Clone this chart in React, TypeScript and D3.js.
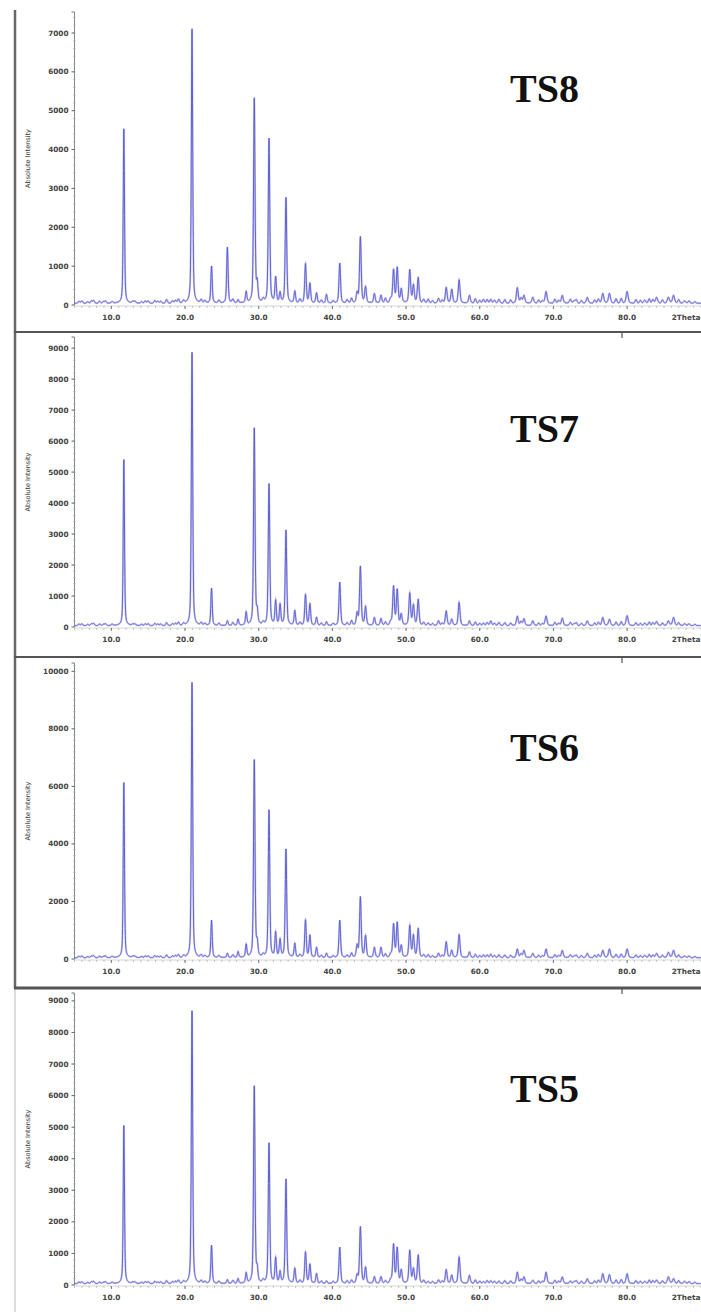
import React, { useMemo } from 'react';
import * as d3 from 'd3';

// ---- data ----
const sampleNames = ['TS8', 'TS7', 'TS6', 'TS5'];

// diffraction peak positions (2θ, degrees), shared by all samples
const peakPos = [11.7, 20.95, 23.6, 25.75, 27.2, 28.3, 29.4, 29.8, 31.4, 32.3, 32.9, 33.7, 34.9, 36.35, 36.95, 37.85, 39.2, 41.0, 42.6, 43.35, 43.8, 44.5, 45.7, 46.6, 47.2, 48.3, 48.8, 49.35, 50.5, 51.0, 51.65, 53.0, 54.4, 55.45, 56.2, 57.2, 58.6, 60.5, 61.5, 62.6, 65.1, 66.0, 67.2, 69.0, 71.2, 72.3, 74.6, 76.7, 77.6, 80.0, 82.4, 84.0, 85.6, 86.3, 87.8];

// net peak intensities (counts) for each sample, aligned with peakPos
const ts8Heights = [4490, 7060, 950, 1440, 80, 280, 5260, 450, 4230, 650, 250, 2710, 300, 1010, 500, 260, 220, 1030, 120, 250, 1700, 410, 240, 200, 120, 850, 900, 350, 850, 450, 650, 100, 120, 400, 350, 600, 200, 100, 100, 100, 400, 200, 150, 300, 200, 100, 150, 250, 250, 300, 80, 150, 150, 200, 60];
const ts7Heights = [5360, 8820, 1200, 150, 200, 420, 6360, 400, 4560, 780, 650, 3070, 470, 990, 690, 260, 120, 1400, 150, 380, 1900, 600, 250, 220, 100, 1250, 1140, 350, 1030, 640, 830, 80, 150, 470, 200, 750, 150, 80, 150, 100, 300, 220, 150, 310, 240, 100, 150, 260, 200, 320, 80, 130, 150, 260, 60];
const ts6Heights = [6090, 9570, 1300, 150, 200, 440, 6860, 450, 5120, 850, 600, 3760, 480, 1300, 760, 350, 150, 1300, 150, 400, 2100, 750, 350, 350, 120, 1150, 1200, 400, 1100, 750, 1000, 100, 150, 550, 250, 800, 200, 100, 120, 100, 300, 250, 150, 300, 250, 100, 150, 250, 300, 300, 80, 150, 180, 250, 60];
const ts5Heights = [5010, 8640, 1210, 120, 150, 320, 6240, 400, 4440, 790, 350, 3300, 470, 990, 600, 310, 80, 1150, 100, 250, 1790, 500, 210, 210, 80, 1230, 1110, 410, 1040, 450, 890, 60, 110, 440, 260, 840, 260, 60, 90, 80, 360, 210, 100, 360, 210, 80, 150, 310, 280, 310, 70, 110, 210, 150, 70];

// small background bumps (2θ, counts)
const minorPos = [5.6, 6.0, 6.8, 7.3, 7.6, 8.4, 8.9, 9.2, 10.1, 12.9, 13.2, 14.1, 14.6, 15.0, 15.9, 16.3, 16.7, 17.5, 18.3, 18.7, 19.1, 19.8, 22.2, 22.7, 24.6, 26.5, 30.6, 35.6, 38.5, 40.1, 42.0, 47.9, 52.4, 53.6, 54.9, 59.4, 60.0, 61.0, 62.0, 63.4, 64.2, 65.6, 68.0, 68.5, 70.2, 70.7, 72.8, 73.1, 73.8, 75.6, 76.1, 78.5, 79.2, 81.2, 81.8, 83.0, 83.5, 84.8, 87.0, 88.4, 89.2];
const minorHeights = [50, 60, 40, 60, 70, 50, 40, 60, 40, 40, 50, 40, 60, 60, 70, 50, 50, 90, 60, 70, 100, 60, 80, 60, 70, 90, 80, 90, 70, 60, 80, 100, 90, 60, 70, 110, 70, 90, 70, 90, 80, 120, 80, 60, 100, 70, 60, 90, 70, 80, 100, 110, 120, 90, 70, 110, 90, 80, 90, 60, 40];
const backgroundLevel = 45;

const xTickValues = [10, 20, 30, 40, 50, 60, 70, 80];
const xTickLabels = ['10.0', '20.0', '30.0', '40.0', '50.0', '60.0', '70.0', '80.0'];
const xEndLabel = '2Theta';
const yTitle = 'Absolute Intensity';

const ts8Ticks = [0, 1000, 2000, 3000, 4000, 5000, 6000, 7000];
const ts7Ticks = [0, 1000, 2000, 3000, 4000, 5000, 6000, 7000, 8000, 9000];
const ts6Ticks = [0, 2000, 4000, 6000, 8000, 10000];
const ts5Ticks = [0, 1000, 2000, 3000, 4000, 5000, 6000, 7000, 8000, 9000];

const yMaxes = [7540, 9360, 10290, 9250];

// ---- layout ----
const W = 701;
const H = 1312;
const layout = [
  { top: 12, zero: 305, labelY: 102, sep: 332 },
  { top: 337, zero: 627, labelY: 442, sep: 657 },
  { top: 663, zero: 959, labelY: 761, sep: 988 },
  { top: 993, zero: 1285, labelY: 1102, sep: null as number | null },
];
const heightsList = [ts8Heights, ts7Heights, ts6Heights, ts5Heights];
const ticksList = [ts8Ticks, ts7Ticks, ts6Ticks, ts5Ticks];

const x = d3.scaleLinear().domain([5, 90]).range([74.5, 700.8]);

function buildProfile(heights: number[]): [number, number][] {
  const grid = d3.range(5, 90.0001, 0.02).concat(peakPos).sort((a, b) => a - b);
  return grid.map((t) => {
    let v = backgroundLevel;
    for (let i = 0; i < peakPos.length; i++) {
      const p = peakPos[i];
      const w = 0.18 + 0.0018 * p;
      const d = (t - p) / w;
      if (Math.abs(d) > 40) continue;
      v += heights[i] * (0.45 / (1 + 4 * d * d) + 0.55 * Math.exp(-2.7726 * d * d));
    }
    for (let i = 0; i < minorPos.length; i++) {
      const d = (t - minorPos[i]) / 0.28;
      if (Math.abs(d) > 6) continue;
      v += minorHeights[i] * Math.exp(-2.7726 * d * d);
    }
    return [t, v];
  });
}

const FONT = 'DejaVu Sans, Verdana, sans-serif';

function Panel({ idx }: { idx: number }) {
  const L = layout[idx];
  const y = d3.scaleLinear().domain([0, yMaxes[idx]]).range([L.zero, L.top]);
  const data = useMemo(() => buildProfile(heightsList[idx]), [idx]);
  const line = d3
    .line<[number, number]>()
    .x((d) => x(d[0]))
    .y((d) => y(Math.min(d[1], yMaxes[idx])))(data) as string;
  const minorY = d3.range(0, yMaxes[idx], 200);
  const minorX = d3.range(5, 90.01, 1);
  const ax = x(5);
  return (
    <g>
      {/* y axis */}
      <line x1={ax} x2={ax} y1={L.top} y2={L.zero} stroke="#888" strokeWidth={1} />
      <line x1={ax - 3} x2={ax} y1={L.top} y2={L.top} stroke="#777" strokeWidth={1} />
      {minorY.map((v) => (
        <line key={'my' + v} x1={ax - 1.5} x2={ax + 1} y1={y(v)} y2={y(v)} stroke="#aaa" strokeWidth={0.7} />
      ))}
      {ticksList[idx].map((v) => (
        <g key={'yt' + v}>
          <line x1={ax - 3} x2={ax} y1={y(v)} y2={y(v)} stroke="#666" strokeWidth={1} />
          <text x={ax - 6} y={y(v)} dy="0.35em" textAnchor="end" fontSize={7.3} fontWeight="bold" fontFamily={FONT} fill="#444">
            {v}
          </text>
        </g>
      ))}
      <text
        transform={`translate(30,${(L.top + L.zero) / 2}) rotate(-90)`}
        textAnchor="middle"
        fontSize={6.5}
        fontFamily={FONT}
        fill="#333"
      >
        {yTitle}
      </text>
      {/* x axis */}
      <line x1={ax} x2={W} y1={L.zero + 1} y2={L.zero + 1} stroke="#ccc" strokeWidth={0.8} />
      {minorX.map((v) => (
        <line key={'mx' + v} x1={x(v)} x2={x(v)} y1={L.zero + 1} y2={L.zero + 3} stroke="#aaa" strokeWidth={0.7} />
      ))}
      {xTickValues.map((v, i) => (
        <g key={'xt' + v}>
          <line x1={x(v)} x2={x(v)} y1={L.zero + 1} y2={L.zero + 4} stroke="#777" strokeWidth={1} />
          <text x={x(v)} y={L.zero + 15} textAnchor="middle" fontSize={7.3} fontWeight="bold" fontFamily={FONT} fill="#444">
            {xTickLabels[i]}
          </text>
        </g>
      ))}
      <text x={x(90) - 29} y={L.zero + 15} textAnchor="start" fontSize={7.3} fontWeight="bold" fontFamily={FONT} fill="#444">
        {xEndLabel}
      </text>
      {/* trace */}
      <path d={line} fill="none" stroke="#9a9aea" strokeWidth={2} strokeOpacity={0.5} />
      <path d={line} fill="none" stroke="#5555cc" strokeWidth={0.9} />
      {/* sample name */}
      <text x={510} y={L.labelY} fontSize={40} fontWeight="bold" fontFamily="Liberation Serif, Times New Roman, serif" fill="#111">
        {sampleNames[idx]}
      </text>
      {L.sep !== null && (
        <g>
          <line x1={14} x2={W} y1={L.sep} y2={L.sep} stroke="#555" strokeWidth={idx === 2 ? 3 : 2} />
          <line x1={622} x2={622} y1={L.sep + 1} y2={L.sep + 6} stroke="#333" strokeWidth={1} />
        </g>
      )}
    </g>
  );
}

export default function App() {
  return (
    <svg
      width={W}
      height={H}
      viewBox={`0 0 ${W} ${H}`}
      style={{ position: 'absolute', left: 0, top: 0, background: '#fff' }}
    >
      <rect x={0} y={0} width={W} height={H} fill="#fff" />
      <line x1={15} x2={15} y1={10} y2={988} stroke="#666" strokeWidth={2.5} />
      <line x1={15} x2={15} y1={988} y2={H} stroke="#ddd" strokeWidth={2} />
      {[0, 1, 2, 3].map((i) => (
        <Panel key={i} idx={i} />
      ))}
    </svg>
  );
}
